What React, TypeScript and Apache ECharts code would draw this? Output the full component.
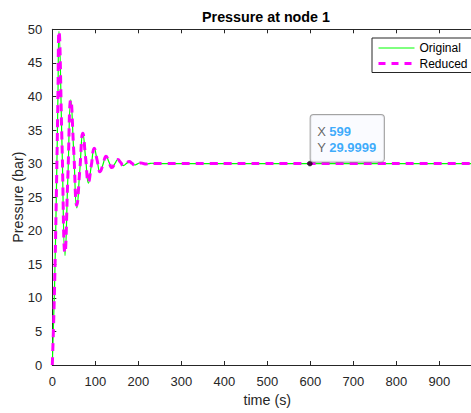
import React, { useEffect, useRef } from "react";
import * as echarts from "echarts";

const titleText = "Pressure at node 1";
const xName = "time (s)";
const yName = "Pressure (bar)";
const seriesNames = ["Original", "Reduced"];

const times = [
  0, 1.5, 5, 10, 13, 15.5, 22.5, 29.5, 36.2, 43, 50, 57, 64, 71, 77.5, 84,
  90.7, 97.5, 104.2, 111, 118, 125, 131.7, 138.5, 145.5, 152.5, 159, 165.5,
  172.2, 179, 185.2, 191.5, 198.2, 205, 211.5, 218, 225, 232, 240, 260, 599, 1000,
];
const original = [
  0, 0, 11, 27.5, 39.5, 49.7, 33, 16.3, 27.9, 39.5, 31.5, 23.4, 29, 34.5, 30.8, 27.1,
  29.7, 32.3, 30.5, 28.7, 29.9, 31.1, 30.25, 29.4, 30, 30.6, 30.15, 29.7,
  30, 30.3, 30.05, 29.8, 29.96, 30.12, 30.02, 29.92, 29.99, 30.05, 30, 30, 29.9999, 30,
];
const reduced = [
  0, 0, 11, 27.5, 39.5, 49.7, 33.2, 16.7, 28.1, 39.5, 31.7, 23.8, 29.1, 34.5, 30.8, 27.2,
  29.7, 32.3, 30.5, 28.8, 29.9, 31.1, 30.25, 29.4, 30, 30.6, 30.15, 29.7,
  30, 30.3, 30.05, 29.8, 29.96, 30.1, 30.02, 29.94, 29.99, 30.03, 30, 30, 29.9999, 30,
];
const tipPoint = [599, 29.9999];
const xTicks = { min: 0, max: 1000, interval: 100 };
const yTicks = { min: 0, max: 50, interval: 5 };

const FONT = "'Liberation Sans', Arial, Helvetica, sans-serif";
const AX = "#262626";

export default function App() {
  const ref = useRef<HTMLDivElement>(null);
  useEffect(() => {
    if (!ref.current) return;
    const chart = echarts.init(ref.current, undefined, { renderer: "svg" });
    const toPairs = (vals: number[]) => times.map((t, i) => [t, vals[i]]);
    const axisCommon = {
      axisLine: { show: true, lineStyle: { color: AX, width: 1 } },
      axisTick: { show: true, inside: true, length: 4, lineStyle: { color: AX } },
      splitLine: { show: false },
    };
    chart.setOption({
      animation: false,
      backgroundColor: "#ffffff",
      textStyle: { fontFamily: FONT },
      grid: {
        left: 52.3,
        top: 29.3,
        width: 430,
        height: 335.7,
        containLabel: false,
        outerBoundsMode: "none",
      },
      graphic: [
        {
          type: "text",
          x: 266,
          y: 16.5,
          style: {
            text: titleText,
            font: `bold 14.3px ${FONT}`,
            fill: "#000",
            textAlign: "center",
            textVerticalAlign: "middle",
          },
        },
      ],
      legend: {
        data: [
          { name: seriesNames[0], lineStyle: { width: 1, color: "#00ff00" } },
          { name: seriesNames[1], lineStyle: { width: 3, color: "#ff00ff", type: [7, 6] } },
        ],
        orient: "vertical",
        left: 372,
        top: 38,
        itemWidth: 36,
        itemHeight: 12,
        itemGap: 3.5,
        padding: [4, 6, 3, 5],
        borderColor: AX,
        borderWidth: 1,
        backgroundColor: "#ffffff",
        itemStyle: { opacity: 0 },
        textStyle: { fontFamily: FONT, fontSize: 12, color: "#000" },
      },
      xAxis: [
        {
          type: "value",
          ...xTicks,
          name: xName,
          nameLocation: "middle",
          nameGap: 28,
          nameMoveOverlap: false,
          nameTextStyle: { fontFamily: FONT, fontSize: 14.3, color: AX },
          axisLabel: {
            fontFamily: FONT,
            fontSize: 13,
            color: AX,
            margin: 10,
            showMaxLabel: false,
            formatter: (v: number) => String(v),
          },
          ...axisCommon,
        },
        {
          type: "value",
          position: "top",
          ...xTicks,
          axisLabel: { show: false },
          ...axisCommon,
        },
      ],
      yAxis: {
        type: "value",
        ...yTicks,
        name: yName,
        nameLocation: "middle",
        nameGap: 27,
        nameMoveOverlap: false,
        nameTextStyle: { fontFamily: FONT, fontSize: 14.3, color: AX },
        axisLabel: { fontFamily: FONT, fontSize: 13, color: AX, margin: 10 },
        ...axisCommon,
      },
      series: [
        {
          name: seriesNames[0],
          type: "line",
          data: toPairs(original),
          smooth: 0.5,
          symbol: "none",
          lineStyle: { color: "#00ff00", width: 1.2 },
          itemStyle: { color: "#00ff00" },
          z: 2,
        },
        {
          name: seriesNames[1],
          type: "line",
          data: toPairs(reduced),
          smooth: 0.5,
          symbol: "none",
          lineStyle: { color: "#ff00ff", width: 3, type: [8, 6] },
          itemStyle: { color: "#ff00ff" },
          z: 3,
        },
        {
          name: "tip",
          type: "scatter",
          data: [tipPoint],
          symbol: "circle",
          symbolSize: 5,
          itemStyle: { color: "#111", borderColor: "#000", borderWidth: 0.5 },
          z: 5,
          label: {
            show: true,
            position: [3.5, -45.8],
            formatter: () => `{k|X} {v|${tipPoint[0]}}\n{k|Y} {v|${tipPoint[1]}}`,
            backgroundColor: "#f9faff",
            borderColor: "#8c8c8c",
            borderWidth: 1,
            borderRadius: 3,
            padding: [8.9, 7.7, 6.6, 6.6],
            lineHeight: 15.6,
            rich: {
              k: { fontFamily: FONT, fontSize: 13, color: "#404040", lineHeight: 15.6 },
              v: { fontFamily: FONT, fontSize: 13, color: "#0a96fa", fontWeight: "bold", lineHeight: 15.6 },
            },
          },
        },
      ],
    });
    return () => chart.dispose();
  }, []);
  return (
    <div
      ref={ref}
      style={{ position: "absolute", left: 0, top: 0, width: 471, height: 413 }}
    />
  );
}
